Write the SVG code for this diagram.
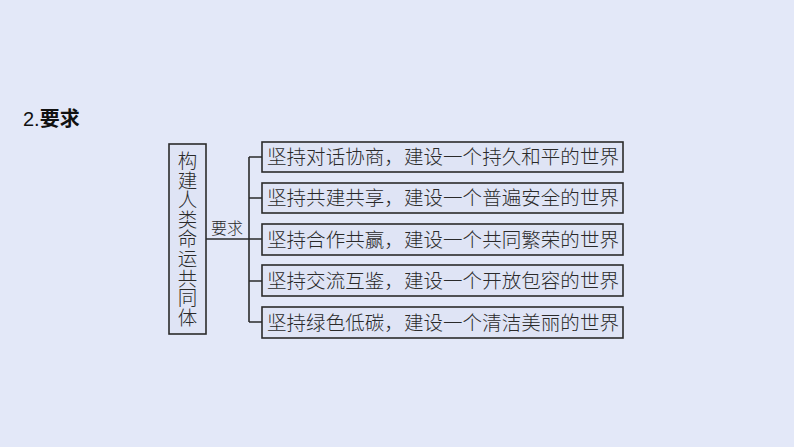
<svg xmlns="http://www.w3.org/2000/svg" width="794" height="447" viewBox="0 0 794 447">
  <style>
    .box { fill: #dfe4f5; stroke: #2b2b2b; stroke-width: 1.6; }
    .t { font-family: "Noto Sans CJK SC", "Noto Sans", sans-serif; font-weight: 300; fill: #2a2a2a; }
    .item { font-size: 19.5px; }
    .line { stroke: #2b2b2b; stroke-width: 1.6; fill: none; }
  </style>
  <rect x="0" y="0" width="794" height="447" fill="#e3e8f8"/>
  <g id="title">
    <text x="23" y="126" class="t" style="font-size:20px;font-weight:400;fill:#111"><tspan font-family="Liberation Sans, sans-serif">2.</tspan><tspan font-weight="700">要求</tspan></text>
  </g>
  <g id="connectors">
    <path class="line" d="M206 239 H249 M249 157 V322 M249 157 H262 M249 198 H262 M249 239 H262 M249 281 H262 M249 322 H262"/>
    <text x="227" y="234" class="t" text-anchor="middle" style="font-size:16px">要求</text>
  </g>
  <g id="root">
    <rect class="box" x="169" y="144" width="37" height="190"/>
    <text class="t" x="187.5" y="151" writing-mode="vertical-rl" style="font-size:19.5px" textLength="176" lengthAdjust="spacing">构建人类命运共同体</text>
  </g>
  <g id="n1">
    <rect class="box" x="262" y="142" width="361" height="30"/>
    <text class="t item" x="267" y="164" textLength="352" lengthAdjust="spacing">坚持对话协商，建设一个持久和平的世界</text>
  </g>
  <g id="n2">
    <rect class="box" x="262" y="183" width="361" height="30"/>
    <text class="t item" x="267" y="205" textLength="352" lengthAdjust="spacing">坚持共建共享，建设一个普遍安全的世界</text>
  </g>
  <g id="n3">
    <rect class="box" x="262" y="224" width="361" height="31"/>
    <text class="t item" x="267" y="246.5" textLength="352" lengthAdjust="spacing">坚持合作共赢，建设一个共同繁荣的世界</text>
  </g>
  <g id="n4">
    <rect class="box" x="262" y="265" width="361" height="31"/>
    <text class="t item" x="267" y="288" textLength="352" lengthAdjust="spacing">坚持交流互鉴，建设一个开放包容的世界</text>
  </g>
  <g id="n5">
    <rect class="box" x="262" y="307" width="361" height="31"/>
    <text class="t item" x="267" y="329.5" textLength="352" lengthAdjust="spacing">坚持绿色低碳，建设一个清洁美丽的世界</text>
  </g>
</svg>
